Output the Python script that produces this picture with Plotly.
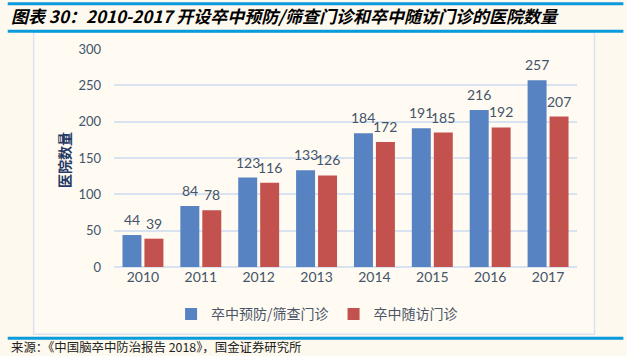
import plotly.graph_objects as go

years = ["2010", "2011", "2012", "2013", "2014", "2015", "2016", "2017"]
prevention = [44, 84, 123, 133, 184, 191, 216, 257]
followup = [39, 78, 116, 126, 172, 185, 192, 207]
series_names = ["卒中预防/筛查门诊", "卒中随访门诊"]
title_text = "图表 30：2010-2017 开设卒中预防/筛查门诊和卒中随访门诊的医院数量"
source_text = "来源：《中国脑卒中防治报告 2018》，国金证券研究所"
y_title = "医院数量"
y_ticks = [0, 50, 100, 150, 200, 250, 300]

W, H = 627, 356
L, R, T, B = 113.5, 577.5, 48.7, 266.7

def px(x):
    return (x - L) / (R - L)

def py(y):
    return (B - y) / (B - T)

tick_color = "#44546A"
sans = "Lato, 'Noto Sans CJK SC', sans-serif"
cjk = "'Noto Sans CJK SC', sans-serif"

fig = go.Figure()
fig.add_trace(go.Bar(
    x=years, y=prevention, name=series_names[0],
    marker=dict(color="#5783C3", line=dict(width=0)),
))
fig.add_trace(go.Bar(
    x=years, y=followup, name=series_names[1],
    marker=dict(color="#C3524E", line=dict(width=0)),
))

shapes = []
# chart box
shapes.append(dict(type="rect", xref="paper", yref="paper",
                   x0=px(33), x1=px(595), y0=py(32), y1=py(334),
                   line=dict(color="#DCE3EE", width=1.5),
                   fillcolor="#FFFBF2", layer="below"))
# blue rules
for yy in (3.5, 31, 338):
    shapes.append(dict(type="line", xref="paper", yref="paper",
                       x0=px(7), x1=px(624), y0=py(yy), y1=py(yy),
                       line=dict(color="#0A9BDC", width=3)))

annotations = [
    dict(text=f"<b><i>{title_text}</i></b>", xref="paper", yref="paper",
         x=px(8), y=py(15), xanchor="left", yanchor="middle", showarrow=False,
         font=dict(family=cjk, size=17, color="#000000")),
    dict(text=source_text, xref="paper", yref="paper",
         x=px(8), y=py(347), xanchor="left", yanchor="middle", showarrow=False,
         font=dict(family=cjk, size=12.4, color="#222222")),
    dict(text=f"<b>{y_title}</b>", xref="paper", yref="paper",
         x=px(64), y=py(160), xanchor="center", yanchor="middle", showarrow=False,
         textangle=-90, font=dict(family=cjk, size=14, color="#1F3864")),
]
# value labels (x given as category index)
for vals, shift in ((prevention, -11), (followup, 11)):
    for i, v in enumerate(vals):
        annotations.append(dict(
            text=str(v), x=i, y=v, xref="x", yref="y", xshift=shift, yshift=5,
            xanchor="center", yanchor="bottom", showarrow=False,
            font=dict(family=sans, size=14, color=tick_color)))

fig.update_layout(
    width=W, height=H,
    margin=dict(l=L, r=W - R, t=T, b=H - B, pad=0),
    paper_bgcolor="#FEF9EE",
    plot_bgcolor="rgba(0,0,0,0)",
    barmode="group", bargap=0.241, bargroupgap=0.136,
    showlegend=True,
    legend=dict(orientation="h", x=px(317), xanchor="center",
                y=py(314), yanchor="middle",
                font=dict(family=cjk, size=14, color="#4A5568"),
                bgcolor="rgba(0,0,0,0)", itemwidth=30),
    shapes=shapes, annotations=annotations,
    xaxis=dict(type="category", range=[-0.5, len(years) - 0.5],
               showgrid=False, showline=False, zeroline=False, ticks="",
               tickfont=dict(family=sans, size=14, color=tick_color)),
    yaxis=dict(range=[0, 300], tickvals=y_ticks, showgrid=True,
               gridcolor="#D9E2F0", gridwidth=1.5, zeroline=True,
               zerolinecolor="#D9E2F0", zerolinewidth=1.5, showline=False,
               ticks="", ticklabelstandoff=12,
               tickfont=dict(family=sans, size=13, color=tick_color)),
)

fig.write_html("out.html", config={"displayModeBar": False},
               post_script="document.body.style.margin='0';document.body.style.background='#FEF9EE';")
